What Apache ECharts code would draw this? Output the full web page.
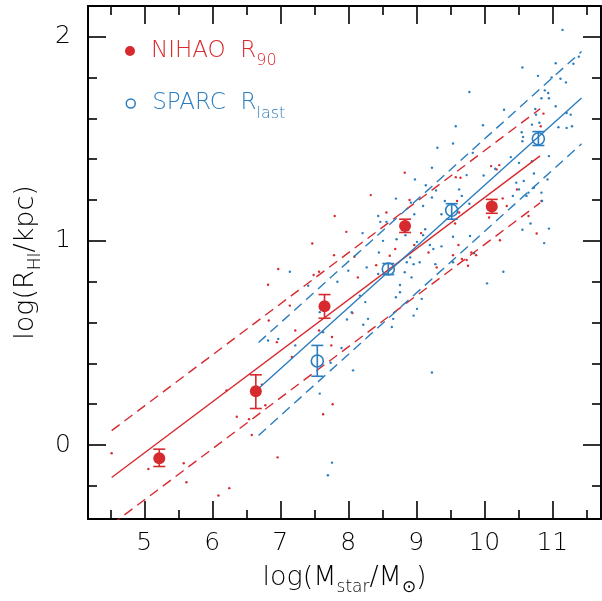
<!DOCTYPE html>
<html>
<head>
<meta charset="utf-8">
<script src="https://cdn.jsdelivr.net/npm/echarts@6/dist/echarts.min.js"></script>
<style>html,body{margin:0;padding:0;background:#fff;}#c{width:602px;height:601px;}</style>
</head>
<body>
<div id="c"></div>
<script>
var RED = '#d62a2e';
var BLUE = '#2a7dbf';
var FONT = 'DejaVu Sans';
var FW = 300;

// Axis ranges and ticks
var xRange = [4.172, 11.716];
var yRange = [-0.362, 2.150];
var xMajorTicks = [5, 6, 7, 8, 9, 10, 11];
var xMinorTicks = [4.5, 5.5, 6.5, 7.5, 8.5, 9.5, 10.5, 11.5];
var yMajorTicks = [0, 1, 2];
var yMinorTicks = [-0.2, 0.2, 0.4, 0.6, 0.8, 1.2, 1.4, 1.6, 1.8];

// Binned means with error bars: [x, y, low, high]
var nihaoMeans = [
  [5.22, -0.065, -0.105, -0.02],
  [6.64, 0.263, 0.179, 0.344],
  [7.65, 0.680, 0.621, 0.737],
  [8.835, 1.073, 1.041, 1.106],
  [10.11, 1.168, 1.135, 1.203]
];
var sparcMeans = [
  [7.544, 0.412, 0.337, 0.488],
  [8.588, 0.862, 0.835, 0.889],
  [9.52, 1.150, 1.106, 1.182],
  [10.795, 1.500, 1.467, 1.535]
];

// Fit lines [[x0,y0],[x1,y1]]
var nihaoFit = [[4.52, -0.159], [10.82, 1.416]];
var nihaoUpper = [[4.52, 0.071], [10.82, 1.646]];
var nihaoLower = [[4.52, -0.389], [10.82, 1.186]];
var sparcFit = [[6.68, 0.277], [11.43, 1.700]];
var sparcUpper = [[6.68, 0.502], [11.43, 1.927]];
var sparcLower = [[6.68, 0.047], [11.43, 1.475]];

// Individual galaxies
var nihaoDots = [
  [8.83,1.334],[8.33,1.224],[7.80,1.122],[7.97,1.044],[7.47,0.987],[6.97,0.862],[6.82,0.785],
  [7.79,0.930],[8.09,0.922],[7.49,0.833],[7.57,0.849],[8.41,0.881],[8.61,0.927],[8.69,0.960],
  [8.56,1.139],[8.90,1.200],[9.07,1.038],[8.97,0.980],[7.14,0.683],[7.22,0.561],[6.83,0.610],
  [8.14,0.821],[8.06,0.647],[7.76,0.529],[7.57,0.561],[9.30,0.870],[9.18,0.943],[6.95,0.504],
  [10.10,1.366],[10.22,1.371],[10.18,1.350],[9.65,1.309],[9.58,1.312],[10.83,1.561],[10.87,1.623],
  [10.48,1.252],[9.60,1.195],[9.63,1.139],[9.57,1.085],[10.27,1.208],[10.33,1.171],[10.07,1.114],
  [10.65,1.122],[10.77,1.036],[10.23,1.003],[9.62,0.980],[9.54,0.930],[9.88,0.930],[9.81,0.943],
  [9.67,0.911],[9.74,0.906],[9.76,0.878],[10.84,1.195],[7.17,0.431],[7.75,0.488],[7.77,0.200],
  [7.63,0.151],[4.52,-0.040],[5.06,-0.117],[5.58,-0.089],[5.62,-0.182],[6.09,-0.247],[6.25,-0.211],
  [6.36,0.139],[6.54,0.127],[6.58,0.049],[6.21,0.268],[6.73,0.296],[6.78,0.195],[6.96,-0.060]
];
var sparcDots = [
  [9.23,1.358],[8.98,1.301],[9.14,1.272],[9.29,1.247],[8.70,1.207],[8.92,1.187],[9.10,1.171],
  [9.23,1.212],[8.97,1.130],[8.44,1.122],[8.47,1.093],[8.56,1.093],[9.37,1.130],[9.42,1.195],
  [9.13,1.057],[9.10,1.028],[9.20,0.980],[9.25,0.960],[9.37,0.973],[8.71,1.008],[9.01,0.995],
  [8.84,1.028],[8.21,1.038],[8.51,1.000],[8.45,0.943],[8.27,0.870],[8.00,0.854],[7.84,0.800],
  [8.44,0.838],[8.91,0.919],[8.86,0.895],[8.96,0.886],[8.83,0.846],[8.93,0.821],[8.76,0.784],
  [9.05,0.895],[9.28,0.886],[8.70,0.724],[8.76,0.748],[8.25,0.700],[8.17,0.732],[8.05,0.651],
  [7.98,0.615],[8.22,0.589],[8.29,0.618],[8.66,0.618],[8.64,0.578],[9.01,0.667],[9.08,0.716],
  [8.96,0.634],[7.41,0.780],[7.58,0.651],[7.14,0.849],[6.82,0.512],[6.97,0.520],[7.90,0.475],
  [7.63,0.553],[11.15,2.033],[10.56,1.849],[10.79,1.808],[10.99,1.800],[11.12,1.794],[11.20,1.776],
  [11.31,1.867],[11.39,1.902],[11.05,1.870],[9.78,1.729],[10.89,1.737],[10.94,1.724],[10.84,1.698],
  [10.95,1.698],[11.05,1.659],[10.75,1.646],[11.21,1.626],[11.27,1.618],[10.29,1.642],[10.76,1.618],
  [10.70,1.569],[10.81,1.578],[11.09,1.556],[11.21,1.553],[11.29,1.561],[10.55,1.532],[10.57,1.509],
  [10.56,1.488],[9.98,1.566],[9.58,1.561],[9.54,1.477],[9.31,1.456],[9.83,1.431],[10.39,1.410],
  [10.51,1.382],[10.70,1.390],[10.95,1.415],[10.73,1.330],[9.74,1.322],[9.99,1.320],[10.16,1.353],
  [9.63,1.252],[9.67,1.220],[10.47,1.285],[10.51,1.252],[10.58,1.293],[10.65,1.236],[10.73,1.260],
  [10.84,1.236],[10.93,1.301],[10.42,1.220],[10.62,1.220],[10.85,1.195],[9.78,1.182],[10.04,1.171],
  [9.54,1.020],[9.79,1.024],[10.56,1.054],[10.68,1.085],[10.95,1.060],[10.88,0.989],[9.85,0.939],
  [9.54,0.895],[10.28,0.849],[10.04,0.792],[7.22,0.488],[8.07,0.366],[9.23,0.355],[7.58,0.252],
  [7.76,-0.086],[7.70,-0.148],[7.74,0.403]
];

function errRender(color) {
  return function (params, api) {
    var x = api.value(0);
    var lo = api.coord([x, api.value(2)]);
    var hi = api.coord([x, api.value(3)]);
    var w = 6;
    var st = { stroke: color, lineWidth: 1.6 };
    return {
      type: 'group',
      children: [
        { type: 'line', shape: { x1: lo[0], y1: lo[1], x2: hi[0], y2: hi[1] }, style: st },
        { type: 'line', shape: { x1: lo[0] - w, y1: lo[1], x2: lo[0] + w, y2: lo[1] }, style: st },
        { type: 'line', shape: { x1: hi[0] - w, y1: hi[1], x2: hi[0] + w, y2: hi[1] }, style: st }
      ]
    };
  };
}

function lineSeries(data, color, dashed) {
  return {
    type: 'line', data: data, showSymbol: false, symbol: 'none', silent: true, clip: true,
    lineStyle: { color: color, width: 1.4, type: dashed ? [10, 6] : 'solid' },
    xAxisIndex: 0, yAxisIndex: 0, z: 3
  };
}

function xAxisDef(pos, ticks, len, showLine, showLabel, extra) {
  var a = {
    type: 'value', position: pos, min: xRange[0], max: xRange[1],
    splitLine: { show: false },
    axisLine: { show: showLine, onZero: false, lineStyle: { color: '#000', width: 2 } },
    axisTick: { show: true, inside: true, length: len, customValues: ticks, lineStyle: { color: '#000', width: 1.6 } },
    axisLabel: { show: showLabel, customValues: ticks, color: '#000', fontSize: 25, fontFamily: FONT, fontWeight: FW, margin: 12 }
  };
  return Object.assign(a, extra || {});
}
function yAxisDef(pos, ticks, len, showLine, showLabel, extra) {
  var a = {
    type: 'value', position: pos, min: yRange[0], max: yRange[1],
    splitLine: { show: false },
    axisLine: { show: showLine, onZero: false, lineStyle: { color: '#000', width: 2 } },
    axisTick: { show: true, inside: true, length: len, customValues: ticks, lineStyle: { color: '#000', width: 1.6 } },
    axisLabel: { show: showLabel, customValues: ticks, color: '#000', fontSize: 25, fontFamily: FONT, fontWeight: FW, margin: 17 }
  };
  return Object.assign(a, extra || {});
}

var titleRich = {
  m: { fontSize: 27, fontFamily: FONT, fontWeight: FW, color: '#000', lineHeight: 36, verticalAlign: 'middle' },
  s: { fontSize: 17, fontFamily: FONT, fontWeight: FW, color: '#000', verticalAlign: 'bottom' }
};

var chart = echarts.init(document.getElementById('c'), null, { renderer: 'canvas' });
chart.setOption({
  animation: false,
  backgroundColor: '#fff',
  grid: { left: 88, right: 1, top: 6, bottom: 80, containLabel: false },
  xAxis: [
    xAxisDef('bottom', xMajorTicks, 18, true, true, {
      name: '{m|log(M}{s|star}{m|/M}{s|⊙}{m|)}', nameLocation: 'middle', nameGap: 41,
      nameTextStyle: { rich: titleRich }
    }),
    xAxisDef('bottom', xMinorTicks, 9, false, false),
    xAxisDef('top', xMajorTicks, 18, true, false),
    xAxisDef('top', xMinorTicks, 9, false, false)
  ],
  yAxis: [
    yAxisDef('left', yMajorTicks, 18, true, true, {
      name: '{m|log(R}{s|HI}{m|/kpc)}', nameLocation: 'middle', nameGap: 43,
      nameTextStyle: { rich: titleRich }
    }),
    yAxisDef('left', yMinorTicks, 9, false, false),
    yAxisDef('right', yMajorTicks, 18, true, false),
    yAxisDef('right', yMinorTicks, 9, false, false)
  ],
  legend: [
    {
      data: [{ name: 'NIHAO', icon: 'circle', itemStyle: { color: RED, borderWidth: 0, opacity: 1 } }],
      left: 125, top: 39.5, padding: 0, itemWidth: 10, itemHeight: 10, selectedMode: false,
      formatter: function () { return '{a|NIHAO  R}{b|90}'; },
      textStyle: { rich: {
        a: { fontSize: 23, fontFamily: FONT, fontWeight: FW, color: RED, lineHeight: 36, verticalAlign: 'middle', padding: [0, 0, 0, 11] },
        b: { fontSize: 16, fontFamily: FONT, fontWeight: FW, color: RED, verticalAlign: 'bottom' }
      } }
    },
    {
      data: [{ name: 'SPARC', icon: 'circle', itemStyle: { color: 'rgba(0,0,0,0)', borderColor: BLUE, borderWidth: 1.5, opacity: 1 } }],
      left: 125.5, top: 92, padding: 0, itemWidth: 9, itemHeight: 9, selectedMode: false,
      formatter: function () { return '{a|SPARC  R}{b|last}'; },
      textStyle: { rich: {
        a: { fontSize: 23, fontFamily: FONT, fontWeight: FW, color: BLUE, lineHeight: 36, verticalAlign: 'middle', padding: [0, 0, 0, 12] },
        b: { fontSize: 16, fontFamily: FONT, fontWeight: FW, color: BLUE, verticalAlign: 'bottom' }
      } }
    }
  ],
  series: [
    { type: 'scatter', name: 'nihaoDots', data: nihaoDots, symbol: 'circle', symbolSize: 2.4,
      itemStyle: { color: RED, opacity: 1 }, silent: true, z: 2 },
    { type: 'scatter', name: 'sparcDots', data: sparcDots, symbol: 'circle', symbolSize: 2.4,
      itemStyle: { color: BLUE, opacity: 1 }, silent: true, z: 2 },
    lineSeries(nihaoFit, RED, false),
    lineSeries(nihaoUpper, RED, true),
    lineSeries(nihaoLower, RED, true),
    lineSeries(sparcFit, BLUE, false),
    lineSeries(sparcUpper, BLUE, true),
    lineSeries(sparcLower, BLUE, true),
    { type: 'custom', name: 'nihaoErr', data: nihaoMeans, renderItem: errRender(RED), silent: true, z: 4,
      encode: { x: 0, y: [1, 2, 3] } },
    { type: 'custom', name: 'sparcErr', data: sparcMeans, renderItem: errRender(BLUE), silent: true, z: 4,
      encode: { x: 0, y: [1, 2, 3] } },
    { type: 'scatter', name: 'NIHAO', data: nihaoMeans.map(function (d) { return [d[0], d[1]]; }),
      symbol: 'circle', symbolSize: 12, itemStyle: { color: RED, opacity: 1 }, z: 5 },
    { type: 'scatter', name: 'SPARC', data: sparcMeans.map(function (d) { return [d[0], d[1]]; }),
      symbol: 'circle', symbolSize: 12, itemStyle: { color: 'rgba(0,0,0,0)', borderColor: BLUE, borderWidth: 1.6, opacity: 1 }, z: 5 }
  ]
});
</script>
</body>
</html>
